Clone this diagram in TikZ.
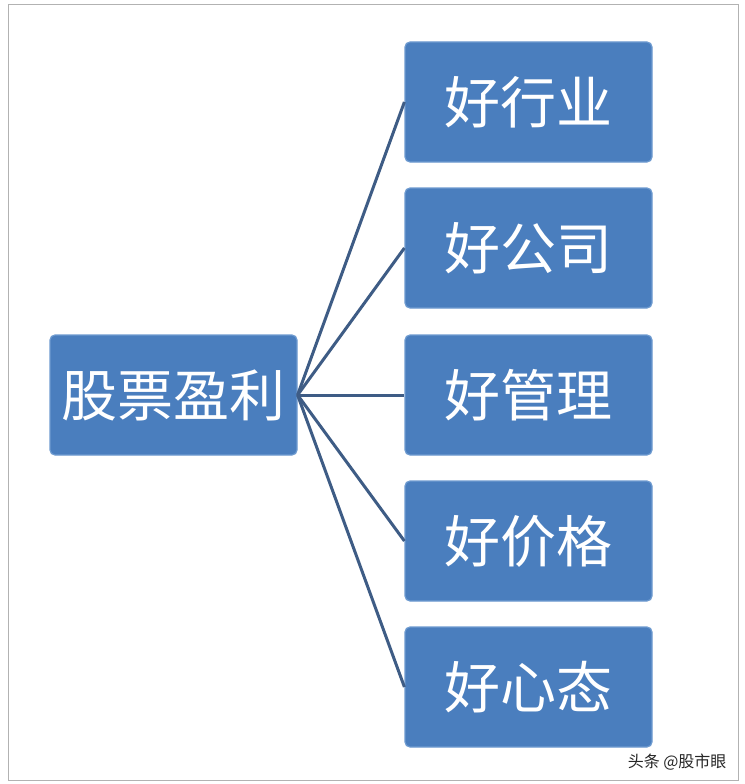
\documentclass[tikz,border=0pt]{standalone}
\usepackage{fontspec}
\newfontfamily\cjk{Noto Sans CJK SC}
\definecolor{boxfill}{HTML}{4A7EBE}
\definecolor{boxline}{HTML}{6E9BD0}
\definecolor{conn}{HTML}{3E5C85}
\begin{document}
\begin{tikzpicture}[x=1pt,y=-1pt,
  box/.style={draw=boxline,line width=1.2pt,fill=boxfill,rounded corners=5pt,minimum width=247pt,minimum height=120pt,inner sep=0pt,text=white,font=\cjk\fontsize{56}{60}\selectfont},
  link/.style={draw=conn,line width=3pt}]
\fill[white] (0,0) rectangle (744,784);
\draw[gray!60,line width=0.8pt] (8,4) rectangle (738,780);
\node[box] (root) at (173.5,395) {股票盈利};
\node[box] (a) at (528.5,102) {好行业};
\node[box] (b) at (528.5,248) {好公司};
\node[box] (c) at (528.5,395) {好管理};
\node[box] (d) at (528.5,541) {好价格};
\node[box] (e) at (528.5,687) {好心态};
\coordinate (s) at (root.east);
\foreach \n in {a,b,c,d,e} \draw[link] (s) -- (\n.west);
\node[anchor=east,font=\cjk\fontsize{16}{18}\selectfont,text=black!85] (wm) at (730,762) {头条 @股市眼};
\end{tikzpicture}
\end{document}
